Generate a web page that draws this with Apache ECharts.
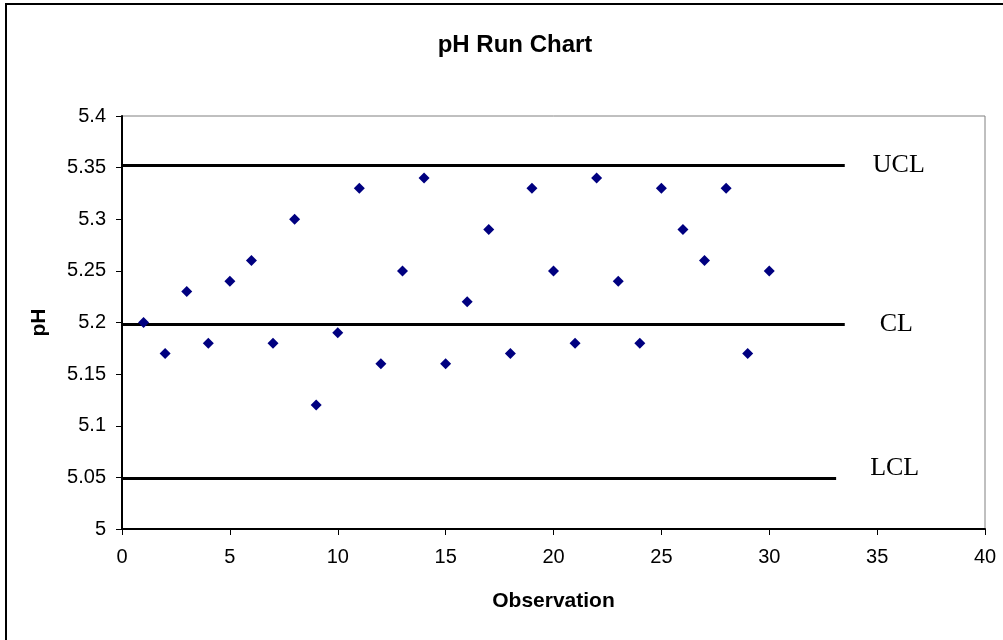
<!DOCTYPE html>
<html>
<head>
<meta charset="utf-8">
<title>pH Run Chart</title>
<script src="https://cdn.jsdelivr.net/npm/echarts@6/dist/echarts.min.js"></script>
<style>
  html, body { margin: 0; padding: 0; background: #fff; }
  #chart { width: 1003px; height: 640px; }
</style>
</head>
<body>
<div id="chart"></div>
<script>
// observations and pH readings
var observation = [1, 2, 3, 4, 5, 6, 7, 8, 9, 10, 11, 12, 13, 14, 15,
  16, 17, 18, 19, 20, 21, 22, 23, 24, 25, 26, 27, 28, 29, 30];
var phValues = [5.20, 5.17, 5.23, 5.18, 5.24, 5.26, 5.18, 5.30, 5.12, 5.19,
  5.33, 5.16, 5.25, 5.34, 5.16, 5.22, 5.29, 5.17, 5.33, 5.25,
  5.18, 5.34, 5.24, 5.18, 5.33, 5.29, 5.26, 5.33, 5.17, 5.25];

// control limits (value, where the line stops on x)
var limitNames = ['UCL', 'CL', 'LCL'];
var limitValues = [5.352, 5.198, 5.049];
var limitEnds = [33.5, 33.5, 33.1];

var myChart = echarts.init(document.getElementById('chart'));

var limitSeries = limitNames.map(function (name, i) {
  return {
    name: name,
    type: 'line',
    symbol: 'none',
    z: 1,
    lineStyle: { color: '#000', width: 3 },
    data: [[0, limitValues[i]], [limitEnds[i], limitValues[i]]],
    endLabel: {
      show: true,
      formatter: name,
      distance: name === 'CL' ? 35 : (name === 'LCL' ? 34 : 28),
      offset: name === 'LCL' ? [0, -10] : [0, 0],
      fontFamily: 'Liberation Serif',
      fontSize: 26,
      color: '#000'
    }
  };
});

myChart.setOption({
  backgroundColor: '#fff',
  animation: false,
  title: {
    text: 'pH Run Chart',
    left: 510,
    top: 28,
    textAlign: 'center',
    textStyle: { fontFamily: 'Liberation Sans', fontWeight: 'bold', fontSize: 24, color: '#000' }
  },
  graphic: [{
    type: 'rect',
    shape: { x: 6, y: 4, width: 1100, height: 700 },
    style: { fill: 'none', stroke: '#000', lineWidth: 2 },
    silent: true
  }],
  grid: {
    left: 122, right: 18, top: 116, bottom: 111,
    show: true, borderColor: '#808080', borderWidth: 1, backgroundColor: '#fff'
  },
  xAxis: {
    type: 'value',
    min: 0, max: 40, interval: 5,
    name: 'Observation',
    nameLocation: 'middle',
    nameGap: 62,
    nameTextStyle: { fontFamily: 'Liberation Sans', fontWeight: 'bold', fontSize: 21, color: '#000' },
    axisLine: { show: true, onZero: false, lineStyle: { color: '#000', width: 2 } },
    axisTick: { show: true, inside: false, length: 6, lineStyle: { color: '#000', width: 1 } },
    axisLabel: { margin: 18, fontFamily: 'Liberation Sans', fontSize: 20, color: '#000' },
    splitLine: { show: false }
  },
  yAxis: {
    type: 'value',
    min: 5, max: 5.4, interval: 0.05,
    name: 'pH',
    nameLocation: 'middle',
    nameRotate: 90,
    nameGap: 72,
    nameTextStyle: { fontFamily: 'Liberation Sans', fontWeight: 'bold', fontSize: 21, color: '#000' },
    axisLine: { show: true, onZero: false, lineStyle: { color: '#000', width: 2 } },
    axisTick: { show: true, inside: false, length: 6, lineStyle: { color: '#000', width: 1 } },
    axisLabel: {
      margin: 16,
      fontFamily: 'Liberation Sans',
      fontSize: 20,
      color: '#000',
      formatter: function (v) { return String(+v.toFixed(2)); }
    },
    splitLine: { show: false }
  },
  series: limitSeries.concat([{
    name: 'pH',
    type: 'scatter',
    symbol: 'diamond',
    symbolSize: [11, 11],
    z: 3,
    itemStyle: { color: '#000080', opacity: 1 },
    data: observation.map(function (o, i) { return [o, phValues[i]]; })
  }])
});
</script>
</body>
</html>
